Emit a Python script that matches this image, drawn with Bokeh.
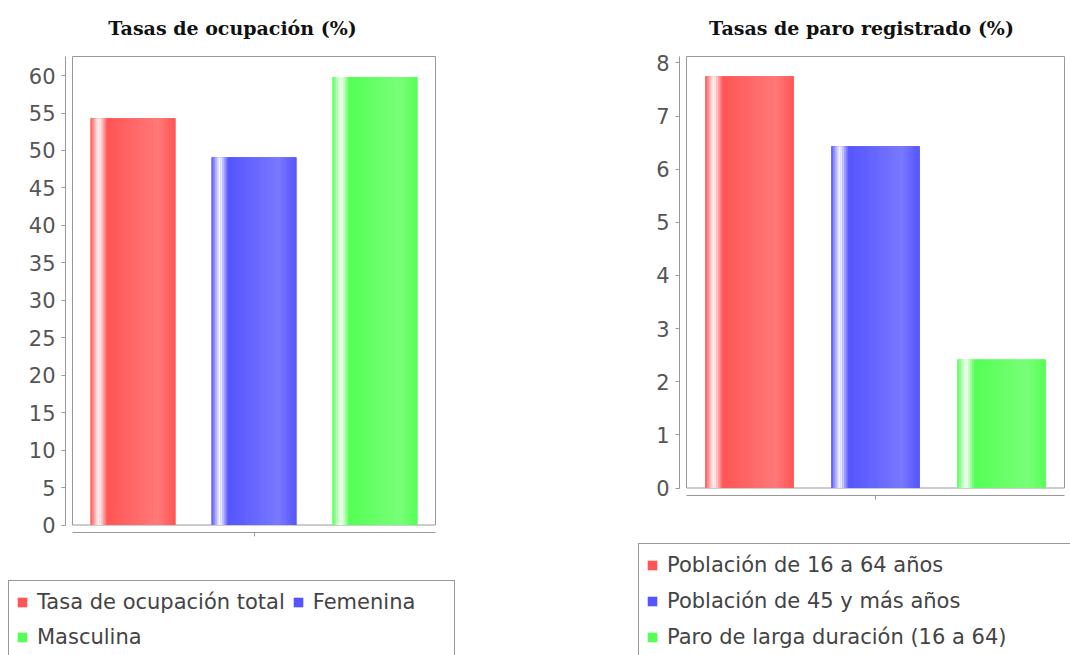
from bokeh.plotting import figure
from bokeh.models import (LinearAxis, FixedTicker, Legend, LegendItem, Label,
                          Range1d, ColumnDataSource)
from bokeh.core.properties import value
from bokeh.embed import file_html
from bokeh.resources import INLINE

# ---------------- data ----------------
occ_title = "Tasas de ocupación (%)"
occ_labels = ["Tasa de ocupación total", "Femenina", "Masculina"]
occ_values = [54.3, 49.1, 59.8]
occ_ticks = [0, 5, 10, 15, 20, 25, 30, 35, 40, 45, 50, 55, 60]
occ_ymax = 62.55

paro_title = "Tasas de paro registrado (%)"
paro_labels = ["Población de 16 a 64 años", "Población de 45 y más años",
               "Paro de larga duración (16 a 64)"]
paro_values = [7.75, 6.43, 2.42]
paro_ticks = [0, 1, 2, 3, 4, 5, 6, 7, 8]
paro_ymax = 8.12

series_colors = ["#FF5555", "#5555FF", "#55FF55"]

# ---------------- style ----------------
SANS = "DejaVu Sans"
SERIF = "DejaVu Serif"
AXIS_GRAY = "#999999"
W, H = 1070, 655          # canvas size


def hex_to_rgb(h):
    h = h.lstrip("#")
    return tuple(int(h[i:i + 2], 16) for i in (0, 2, 4))


def rgb_to_hex(c):
    return "#%02x%02x%02x" % tuple(max(0, min(255, int(round(v)))) for v in c)


def mix(a, b, t):
    return tuple(a[i] + (b[i] - a[i]) * t for i in range(3))


def gradient_color(base_hex, f):
    # JFreeChart-like gradient bar painter
    c0 = hex_to_rgb(base_hex)
    c1 = tuple(min(255, v / 0.7) for v in c0)
    white = (255, 255, 255)
    if f < 0.10:
        c = mix(c0, white, f / 0.10)
    elif f < 0.20:
        c = mix(white, c0, (f - 0.10) / 0.10)
    elif f < 0.80:
        c = mix(c0, c1, (f - 0.20) / 0.60)
    else:
        c = mix(c1, c0, (f - 0.80) / 0.20)
    return rgb_to_hex(c)


def span_range(box_lo_px, box_hi_px, data_lo, data_hi, total_px):
    """Range over the whole canvas so that [data_lo, data_hi] fills the box."""
    k = (data_hi - data_lo) / float(box_hi_px - box_lo_px)
    return Range1d(data_lo - box_lo_px * k, data_hi + (total_px - box_hi_px) * k)


p = figure(width=W, height=H, x_range=Range1d(0, 1), y_range=Range1d(0, 1),
           x_axis_type=None, y_axis_type=None,
           output_backend="svg", toolbar_location=None, min_border=0)
p.outline_line_color = None
p.background_fill_color = "white"
p.border_fill_color = "white"


def add_chart(key, title, labels, values, ticks, y_max,
              box_x, box_y, title_pos, legend_xtop, legend_ncols,
              legend_label_width, legend_label_height, legend_spacing):
    xr, yr = "x" + key, "y" + key
    x_lo, x_hi = -1.5, 1.5
    p.extra_x_ranges[xr] = span_range(box_x[0], box_x[1], x_lo, x_hi, W)
    p.extra_y_ranges[yr] = span_range(box_y[0], box_y[1], 0, y_max, H)
    kx = (x_hi - x_lo) / float(box_x[1] - box_x[0])
    ky = y_max / float(box_y[1] - box_y[0])

    # plot box
    p.quad(left=[x_lo], right=[x_hi], bottom=[0], top=[y_max],
           fill_color=None, line_color=AXIS_GRAY, line_width=1,
           x_range_name=xr, y_range_name=yr)

    # y axis, set off 7px to the left of the box
    yaxis = LinearAxis(x_range_name=xr, y_range_name=yr,
                       fixed_location=x_lo - 7 * kx, bounds=(0, y_max),
                       ticker=FixedTicker(ticks=ticks),
                       axis_line_color=AXIS_GRAY,
                       major_tick_line_color=AXIS_GRAY,
                       minor_tick_line_color=None,
                       major_tick_in=0, major_tick_out=4,
                       major_label_standoff=6,
                       major_label_text_font=SANS,
                       major_label_text_font_size="21px",
                       major_label_text_color="#555555")
    p.add_layout(yaxis, "left")

    # category axis, set off 7px below the box, single centre tick
    xaxis = LinearAxis(x_range_name=xr, y_range_name=yr,
                       fixed_location=0 - 7 * ky, bounds=(x_lo, x_hi),
                       ticker=FixedTicker(ticks=[0]),
                       axis_line_color=AXIS_GRAY,
                       major_tick_line_color=AXIS_GRAY,
                       minor_tick_line_color=None,
                       major_tick_in=0, major_tick_out=4,
                       major_label_overrides={0: ""},
                       major_label_text_font_size="10px")
    p.add_layout(xaxis, "below")

    bar_w = 0.70
    xs = [i - 1 for i in range(len(values))]
    n_slices = 48
    items = []
    for i, (lab, v) in enumerate(zip(labels, values)):
        base = p.vbar(x=[xs[i]], top=[v], bottom=0, width=bar_w,
                      fill_color=series_colors[i], line_color=None,
                      x_range_name=xr, y_range_name=yr)
        sx, stop, scol = [], [], []
        for k in range(n_slices):
            f = (k + 0.5) / n_slices
            sx.append(xs[i] - bar_w / 2 + f * bar_w)
            stop.append(v)
            scol.append(gradient_color(series_colors[i], f))
        src = ColumnDataSource(dict(x=sx, top=stop, color=scol))
        p.vbar(x="x", top="top", bottom=0, width=bar_w / n_slices * 1.25,
               fill_color="color", line_color=None, source=src,
               x_range_name=xr, y_range_name=yr)
        items.append(LegendItem(label=lab, renderers=[base]))

    nrows = -(-len(items) // legend_ncols)
    pad = 7
    leg_h = nrows * legend_label_height + (nrows - 1) * legend_spacing + 2 * pad
    lx, ltop = legend_xtop
    legend = Legend(items=items, location=(lx, ltop - leg_h),
                    orientation="horizontal" if legend_ncols > 1 else "vertical",
                    label_text_font=SANS, label_text_font_size="21px",
                    label_text_color="#444444",
                    label_height=legend_label_height,
                    label_width=legend_label_width,
                    glyph_width=12, glyph_height=12,
                    label_standoff=9, spacing=legend_spacing,
                    padding=pad, margin=0,
                    border_line_color="#333333", border_line_width=1,
                    background_fill_color="white", background_fill_alpha=1.0)
    if legend_ncols > 1:
        legend.ncols = legend_ncols
    p.add_layout(legend, "center")

    t = Label(x=title_pos[0], y=title_pos[1], x_units="screen",
              y_units="screen", text=title, text_align="center",
              text_baseline="middle", text_font=SERIF,
              text_font_style="bold", text_font_size="19px",
              text_color="#111111")
    p.add_layout(t)


# geometry in canvas pixels: x from left, y from bottom
add_chart("1", occ_title, occ_labels, occ_values, occ_ticks, occ_ymax,
          box_x=(72, 435), box_y=(130.5, 599), title_pos=(232, 628),
          legend_xtop=(8, 73), legend_ncols=2,
          legend_label_width=134, legend_label_height=28, legend_spacing=7)

add_chart("2", paro_title, paro_labels, paro_values, paro_ticks, paro_ymax,
          box_x=(686, 1064), box_y=(167.5, 599), title_pos=(861, 628),
          legend_xtop=(638, 110), legend_ncols=1,
          legend_label_width=420, legend_label_height=28, legend_spacing=8)

open("out.html", "w").write(file_html(p, INLINE))
